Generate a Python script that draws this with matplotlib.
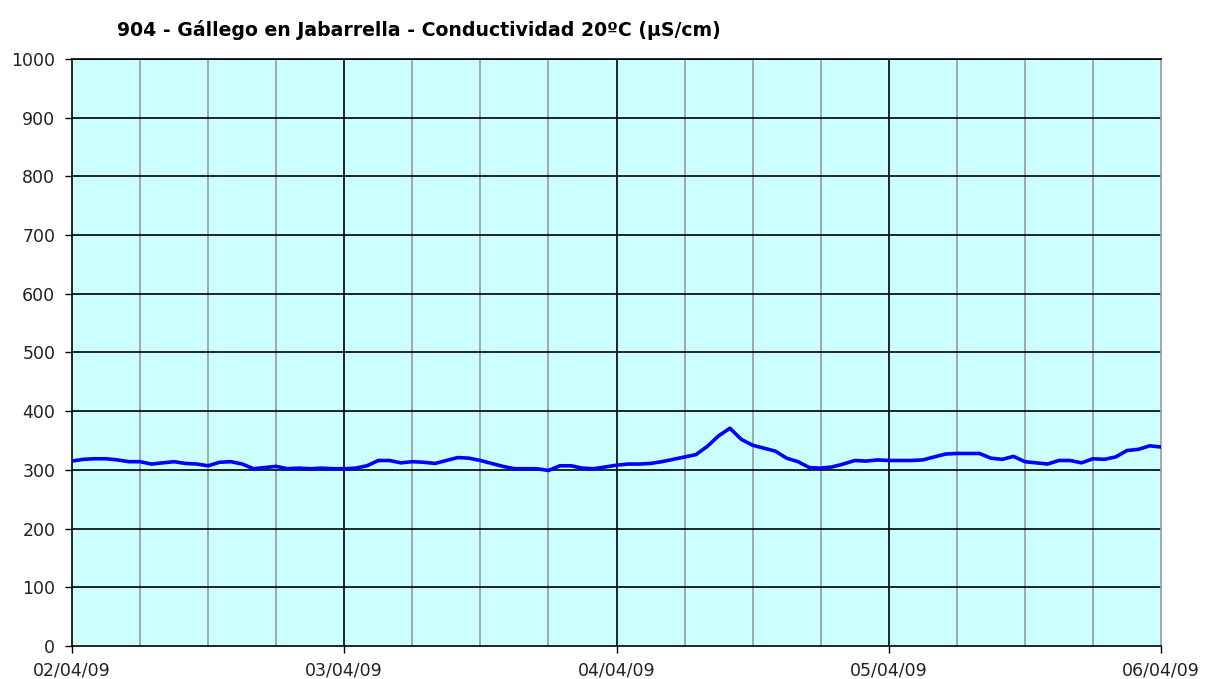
import matplotlib
matplotlib.use("Agg")
import matplotlib.pyplot as plt
import numpy as np

# Hours since 02/04/09 00:00
hours = list(range(0, 97))
conductivity = [
    315, 318, 319, 319, 317, 314, 314, 310, 312, 314,
    311, 310, 307, 313, 314, 310, 302, 304, 306, 302,
    303, 302, 303, 302, 302, 303, 307, 316, 316, 312,
    314, 313, 311, 316, 321, 320, 316, 311, 306, 302,
    302, 302, 299, 307, 307, 303, 302, 305, 308, 310,
    310, 311, 314, 318, 322, 326, 340, 358, 371, 352,
    342, 337, 332, 320, 314, 304, 303, 305, 310, 316,
    315, 317, 316, 316, 316, 317, 322, 327, 328, 328,
    328, 320, 318, 323, 314, 312, 310, 316, 316, 312,
    319, 318, 322, 333, 335, 341, 339,
]
day_labels = ["02/04/09", "03/04/09", "04/04/09", "05/04/09", "06/04/09"]
title = "904 - Gállego en Jabarrella - Conductividad 20ºC (µS/cm)"

fig = plt.figure(figsize=(12.06, 6.79), dpi=100)
ax = fig.add_axes([72/1206, 1-646/679, (1161-72)/1206, (646-59)/679])
ax.set_facecolor("#CCFFFF")

ax.set_xlim(0, 96)
ax.set_ylim(0, 1000)

# grid lines
for h in range(6, 96, 6):
    if h % 24 == 0:
        ax.axvline(h, color="black", lw=1.2, zorder=1)
    else:
        ax.axvline(h, color="#999999", lw=1.2, zorder=1)
for v in range(100, 1001, 100):
    ax.axhline(v, color="black", lw=1.2, zorder=1)

ax.plot(hours, conductivity, color="#0000FF", lw=2.6, zorder=3)

ax.set_yticks(range(0, 1001, 100))
ax.set_xticks([0, 24, 48, 72, 96])
ax.set_xticklabels(day_labels)
ax.tick_params(axis="both", labelsize=12.5, colors="black", direction="out", length=5, width=1)
ax.tick_params(axis="y", pad=7)
ax.tick_params(axis="x", pad=6)
for lab in ax.get_xticklabels() + ax.get_yticklabels():
    lab.set_color("#222222")

for s in ["left", "bottom", "top"]:
    ax.spines[s].set_color("black")
    ax.spines[s].set_linewidth(1.2)
ax.spines["right"].set_color("#999999")
ax.spines["right"].set_linewidth(1.2)

fig.text(117/1206, 1-30/679, title, fontsize=13.6, fontweight="bold", ha="left", va="center", color="black")

fig.savefig("out.png", dpi=100)
